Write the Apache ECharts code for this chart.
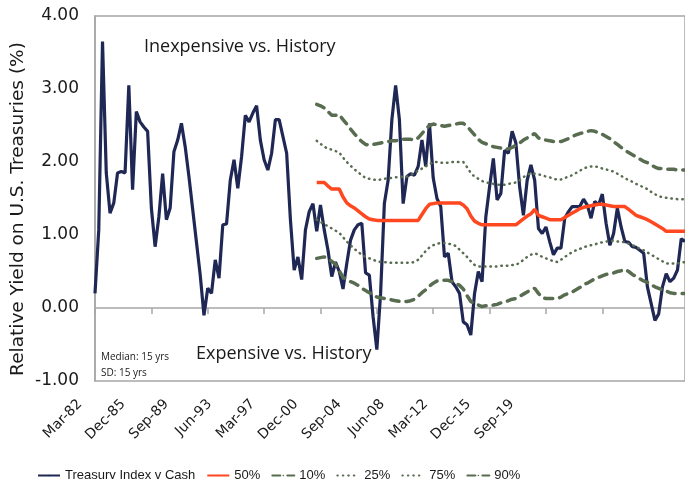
<!DOCTYPE html>
<html>
<head>
<meta charset="utf-8">
<title>Relative Yield on U.S. Treasuries</title>
<script src="https://cdn.jsdelivr.net/npm/echarts@6/dist/echarts.min.js"></script>
<style>
	html, body { margin: 0; padding: 0; background: #fff; }
	#main { width: 685px; height: 479px; }
</style>
</head>
<body>
<div id="main"></div>
<script>
// quarterly categories, Mar-82 .. Jun-21
var quarterMonths = ['Mar', 'Jun', 'Sep', 'Dec'];
var quarters = [];
for (var i = 0; i < 158; i++) {
	var yr = (82 + Math.floor(i / 4)) % 100;
	quarters.push(quarterMonths[i % 4] + '-' + (yr < 10 ? '0' + yr : yr));
}
var tickLabels = ['Mar-82', 'Dec-85', 'Sep-89', 'Jun-93', 'Mar-97', 'Dec-00', 'Sep-04', 'Jun-08', 'Mar-12', 'Dec-15', 'Sep-19'];

// Treasury index yield minus cash
var treasury = [
	0.20, 1.07, 3.65, 1.85, 1.30, 1.44, 1.85, 1.87, 1.85, 3.05,
	1.62, 2.69, 2.55, 2.48, 2.42, 1.37, 0.84, 1.25, 1.84, 1.21,
	1.37, 2.14, 2.30, 2.53, 2.21, 1.80, 1.35, 0.90, 0.45, -0.10,
	0.27, 0.20, 0.66, 0.41, 1.14, 1.15, 1.75, 2.03, 1.64, 2.07,
	2.64, 2.55, 2.67, 2.77, 2.30, 2.03, 1.89, 2.12, 2.58, 2.58,
	2.35, 2.12, 1.21, 0.52, 0.70, 0.39, 1.07, 1.32, 1.43, 1.05,
	1.41, 1.07, 0.79, 0.43, 0.63, 0.50, 0.26, 0.61, 0.93, 1.07,
	1.14, 1.16, 0.48, 0.45, -0.12, -0.57, 0.20, 1.43, 1.75, 2.58,
	3.05, 2.58, 1.43, 1.80, 1.84, 1.82, 1.94, 2.30, 1.94, 2.53,
	1.78, 1.50, 1.39, 0.70, 0.75, 0.36, 0.29, 0.20, -0.19, -0.23,
	-0.37, 0.20, 0.50, 0.36, 1.25, 1.66, 2.05, 1.48, 1.57, 2.16,
	2.12, 2.42, 2.26, 1.66, 1.27, 1.75, 1.96, 1.75, 1.09, 1.02,
	1.11, 0.91, 0.73, 0.82, 0.82, 1.23, 1.32, 1.39, 1.39, 1.39,
	1.49, 1.41, 1.23, 1.46, 1.41, 1.56, 1.16, 0.86, 1.02, 1.37,
	1.11, 0.91, 0.90, 0.84, 0.83, 0.79, 0.75, 0.29, 0.06, -0.17,
	-0.08, 0.29, 0.47, 0.36, 0.41, 0.52, 0.95, 0.91
];

// rolling 15 yr percentiles, from Dec-96 on
var bandStart = 59;
var p50 = [
	1.72, 1.72, 1.72, 1.67, 1.63, 1.63, 1.63, 1.52, 1.44, 1.40,
	1.37, 1.33, 1.29, 1.25, 1.22, 1.21, 1.20, 1.20, 1.20, 1.20,
	1.20, 1.20, 1.20, 1.20, 1.20, 1.20, 1.20, 1.20, 1.28, 1.36,
	1.42, 1.43, 1.44, 1.44, 1.44, 1.44, 1.44, 1.44, 1.44, 1.41,
	1.36, 1.26, 1.19, 1.16, 1.14, 1.14, 1.14, 1.14, 1.14, 1.14,
	1.14, 1.14, 1.14, 1.14, 1.18, 1.22, 1.26, 1.29, 1.35, 1.27,
	1.25, 1.23, 1.21, 1.21, 1.21, 1.21, 1.24, 1.27, 1.30, 1.33,
	1.36, 1.38, 1.39, 1.40, 1.41, 1.42, 1.42, 1.41, 1.40, 1.39,
	1.39, 1.39, 1.39, 1.35, 1.31, 1.27, 1.25, 1.23, 1.21, 1.18,
	1.15, 1.12, 1.09, 1.05, 1.05, 1.05, 1.05, 1.05, 1.05
];
var p10 = [
	0.68, 0.69, 0.70, 0.67, 0.64, 0.60, 0.51, 0.42, 0.39, 0.36,
	0.34, 0.31, 0.27, 0.24, 0.21, 0.18, 0.15, 0.14, 0.13, 0.12,
	0.11, 0.10, 0.09, 0.09, 0.09, 0.10, 0.12, 0.16, 0.21, 0.25,
	0.30, 0.34, 0.37, 0.38, 0.38, 0.38, 0.36, 0.34, 0.31, 0.26,
	0.17, 0.09, 0.06, 0.04, 0.02, 0.03, 0.03, 0.04, 0.05, 0.07,
	0.08, 0.10, 0.12, 0.13, 0.16, 0.19, 0.22, 0.25, 0.27, 0.20,
	0.14, 0.13, 0.13, 0.13, 0.13, 0.15, 0.18, 0.20, 0.22, 0.25,
	0.28, 0.32, 0.34, 0.37, 0.40, 0.42, 0.44, 0.46, 0.47, 0.48,
	0.50, 0.51, 0.53, 0.50, 0.46, 0.43, 0.40, 0.37, 0.35, 0.32,
	0.29, 0.27, 0.25, 0.23, 0.21, 0.20, 0.20, 0.20, 0.20
];
var p25 = [
	1.21, 1.18, 1.15, 1.12, 1.09, 1.06, 1.03, 0.97, 0.91, 0.86,
	0.81, 0.77, 0.73, 0.70, 0.68, 0.66, 0.64, 0.63, 0.63, 0.62,
	0.62, 0.62, 0.62, 0.62, 0.62, 0.62, 0.63, 0.66, 0.72, 0.78,
	0.83, 0.86, 0.88, 0.89, 0.89, 0.88, 0.87, 0.85, 0.80, 0.75,
	0.70, 0.64, 0.59, 0.57, 0.57, 0.57, 0.57, 0.57, 0.57, 0.58,
	0.58, 0.58, 0.59, 0.59, 0.62, 0.66, 0.70, 0.73, 0.75, 0.73,
	0.70, 0.68, 0.66, 0.64, 0.63, 0.66, 0.70, 0.73, 0.77, 0.79,
	0.81, 0.83, 0.85, 0.86, 0.87, 0.89, 0.90, 0.91, 0.92, 0.92,
	0.91, 0.91, 0.90, 0.88, 0.86, 0.84, 0.81, 0.79, 0.76, 0.73,
	0.70, 0.67, 0.64, 0.61, 0.61, 0.61, 0.61, 0.62, 0.63
];
var p75 = [
	2.29, 2.25, 2.21, 2.18, 2.17, 2.15, 2.13, 2.06, 2.00, 1.95,
	1.90, 1.86, 1.82, 1.78, 1.77, 1.76, 1.75, 1.76, 1.77, 1.78,
	1.78, 1.79, 1.79, 1.80, 1.80, 1.82, 1.85, 1.88, 1.91, 1.94,
	1.97, 2.00, 2.00, 1.99, 1.99, 1.99, 2.00, 2.00, 2.00, 2.00,
	1.93, 1.85, 1.80, 1.77, 1.74, 1.72, 1.71, 1.70, 1.69, 1.69,
	1.69, 1.70, 1.71, 1.72, 1.75, 1.79, 1.83, 1.84, 1.84, 1.83,
	1.82, 1.80, 1.79, 1.77, 1.76, 1.76, 1.78, 1.80, 1.82, 1.85,
	1.88, 1.91, 1.93, 1.94, 1.94, 1.93, 1.91, 1.90, 1.88, 1.87,
	1.84, 1.81, 1.78, 1.75, 1.73, 1.70, 1.68, 1.65, 1.63, 1.59,
	1.56, 1.53, 1.52, 1.51, 1.50, 1.50, 1.49, 1.49, 1.49
];
var p90 = [
	2.79, 2.77, 2.74, 2.69, 2.64, 2.64, 2.65, 2.58, 2.52, 2.45,
	2.39, 2.33, 2.28, 2.24, 2.23, 2.24, 2.25, 2.26, 2.27, 2.28,
	2.29, 2.29, 2.30, 2.31, 2.31, 2.31, 2.30, 2.33, 2.39, 2.45,
	2.50, 2.52, 2.51, 2.50, 2.49, 2.50, 2.51, 2.52, 2.53, 2.53,
	2.49, 2.43, 2.37, 2.31, 2.27, 2.25, 2.23, 2.21, 2.20, 2.19,
	2.17, 2.18, 2.20, 2.23, 2.26, 2.30, 2.33, 2.36, 2.39, 2.33,
	2.31, 2.30, 2.29, 2.28, 2.28, 2.28, 2.30, 2.32, 2.35, 2.37,
	2.39, 2.40, 2.42, 2.43, 2.42, 2.40, 2.38, 2.35, 2.32, 2.28,
	2.24, 2.20, 2.16, 2.13, 2.10, 2.07, 2.04, 2.01, 1.99, 1.96,
	1.93, 1.91, 1.91, 1.90, 1.90, 1.90, 1.89, 1.89, 1.89
];

var NAVY = '#1f2755';
var ORANGE = '#ff4720';
var GREEN = '#586c50';
var GREY = '#a6a6a6';
var TXT = '#1a1a1a';

//percentile lines only exist from bandStart on
function band(vals){
	var out = [];
	for (var i = 0; i < bandStart; i++) out.push('-');
	return out.concat(vals);
}

function lineSeries(name, data, color, width, dash){
	return {
		name : name,
		type : 'line',
		xAxisIndex : 0,
		yAxisIndex : 0,
		data : data,
		showSymbol : false,
		symbol : 'none',
		smooth : false,
		animation : false,
		lineStyle : {
			color : color,
			width : width,
			type : dash || 'solid',
			cap : dash ? 'round' : 'butt'
		},
		itemStyle : { color : color }
	};
}

var chart = echarts.init(document.getElementById('main'));
var option = {
	animation : false,
	backgroundColor : '#fff',
	textStyle : { fontFamily : 'DejaVu Sans', color : TXT },
	grid : [
		// plot area
		{ left : 95, right : -1, top : 16, bottom : 98, show : true, borderColor : GREY, borderWidth : 1.5 },
		// rotated date labels under the plot
		{ left : 80, width : 432, top : 395, height : 1 },
		// zero line with its ticks
		{ left : 95, right : -1, top : 16, height : 292 }
	],
	xAxis : [
		{
			gridIndex : 0,
			type : 'category',
			data : quarters,
			boundaryGap : false,
			axisLine : { show : false },
			axisTick : { show : false },
			axisLabel : { show : false },
			splitLine : { show : false }
		},
		{
			gridIndex : 1,
			type : 'category',
			data : tickLabels,
			boundaryGap : false,
			axisLine : { show : false },
			axisTick : { show : false },
			axisLabel : {
				interval : 0,
				rotate : 45,
				margin : 6,
				fontSize : 14,
				fontFamily : 'DejaVu Sans',
				color : TXT
			}
		},
		{
			gridIndex : 2,
			type : 'category',
			data : quarters,
			boundaryGap : false,
			axisLine : { show : true, onZero : false, lineStyle : { color : GREY, width : 1.5 } },
			axisTick : { show : true, interval : 14, length : 6, lineStyle : { color : GREY, width : 1.5 } },
			axisLabel : { show : false }
		}
	],
	yAxis : [
		{
			gridIndex : 0,
			type : 'value',
			min : -1,
			max : 4,
			interval : 1,
			axisLine : { show : true, lineStyle : { color : GREY, width : 1.5 } },
			axisTick : { show : false },
			splitLine : { show : false },
			axisLabel : {
				margin : 16,
				fontSize : 17,
				fontFamily : 'DejaVu Sans',
				color : TXT,
				formatter : function(v){ return v.toFixed(2); }
			}
		},
		{ gridIndex : 1, type : 'value', show : false },
		{ gridIndex : 2, type : 'value', show : false }
	],
	legend : {
		left : 32,
		top : 464,
		itemWidth : 22,
		itemHeight : 2,
		itemGap : 11,
		textStyle : { fontFamily : 'Liberation Sans', fontSize : 13, color : TXT },
		data : ['Treasury Index v Cash', '50%', '10%', '25%', '75%', '90%']
	},
	graphic : [
		{
			type : 'text',
			rotation : Math.PI / 2,
			x : 18, y : 209,
			style : {
				text : 'Relative Yield on U.S. Treasuries (%)',
				font : '18.5px "DejaVu Sans"',
				fill : TXT,
				textAlign : 'center',
				textVerticalAlign : 'middle'
			}
		},
		{
			type : 'text',
			x : 144, y : 47,
			style : { text : 'Inexpensive vs. History', font : '18px "Open Sans"', fill : TXT, textVerticalAlign : 'middle' }
		},
		{
			type : 'text',
			x : 196, y : 354,
			style : { text : 'Expensive vs. History', font : '18px "Open Sans"', fill : TXT, textVerticalAlign : 'middle' }
		},
		{
			type : 'text',
			x : 101, y : 357,
			style : { text : 'Median: 15 yrs', font : '10px "Open Sans"', fill : TXT, textVerticalAlign : 'middle' }
		},
		{
			type : 'text',
			x : 101, y : 373,
			style : { text : 'SD: 15 yrs', font : '10px "Open Sans"', fill : TXT, textVerticalAlign : 'middle' }
		}
	],
	series : [
		lineSeries('Treasury Index v Cash', treasury, NAVY, 3.2),
		lineSeries('50%', band(p50), ORANGE, 3.5),
		lineSeries('10%', band(p10), GREEN, 3.5, [8, 7]),
		lineSeries('25%', band(p25), GREEN, 2.5, [0.5, 5]),
		lineSeries('75%', band(p75), GREEN, 2.5, [0.5, 5]),
		lineSeries('90%', band(p90), GREEN, 3.5, [8, 7])
	]
};
chart.setOption(option);
</script>
</body>
</html>
